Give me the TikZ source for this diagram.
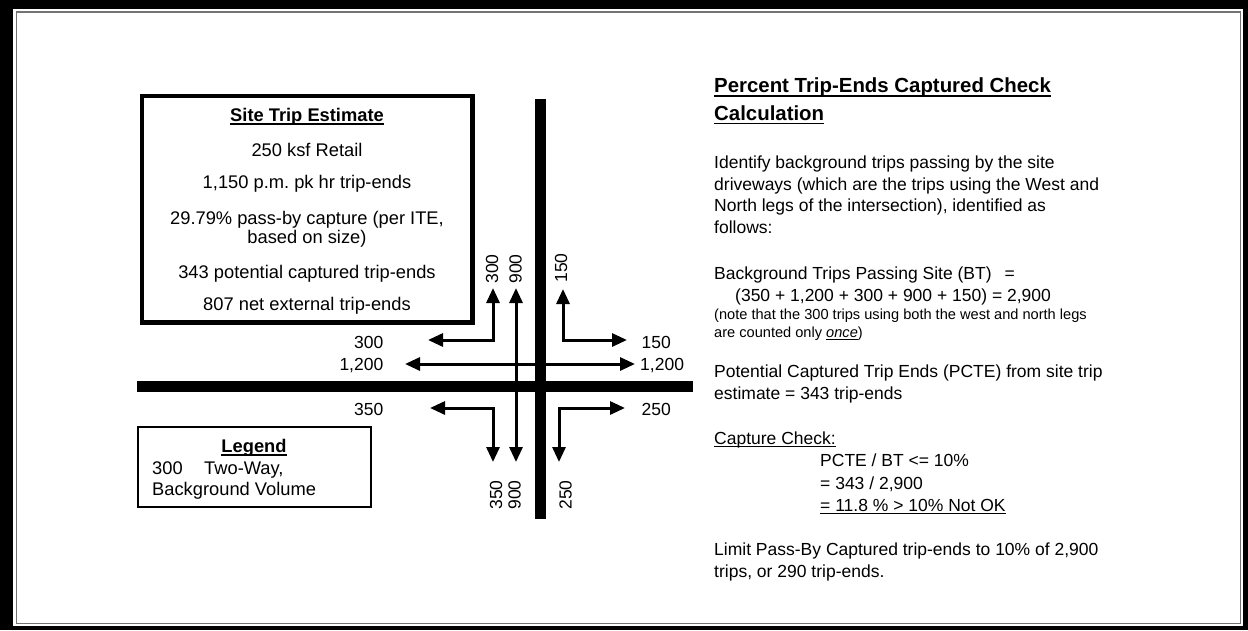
\documentclass[tikz,border=0pt]{standalone}
\usepackage{fontspec}
\setmainfont{Liberation Sans}
\usetikzlibrary{arrows.meta}
\frenchspacing
\newcommand\myul[1]{\setbox0=\hbox{#1}\rlap{\rule[-3pt]{\wd0}{1.3pt}}\box0}
\newcommand\myulb[1]{\setbox0=\hbox{#1}\rlap{\rule[-4.2pt]{\wd0}{1.6pt}}\box0}
\begin{document}
\begin{tikzpicture}[x=1pt,y=-1pt,
  txt/.style={inner sep=0pt, anchor=base west, font=\fontsize{17.5}{21}\selectfont},
  txtb/.style={inner sep=0pt, anchor=base west, font=\bfseries\fontsize{20.4}{24}\selectfont},
  txts/.style={inner sep=0pt, anchor=base west, font=\fontsize{14.6}{17}\selectfont},
  ltxt/.style={inner sep=0pt, anchor=base west, font=\fontsize{18.3}{22}\selectfont},
  ctr/.style={inner sep=0pt, anchor=base, font=\fontsize{18.3}{22}\selectfont},
  ctrb/.style={inner sep=0pt, anchor=base, font=\bfseries\fontsize{18.3}{22}\selectfont},
  lbl/.style={inner sep=0pt, font=\fontsize{17.5}{21}\selectfont},
  arr/.style={line width=3pt, {Triangle[length=15pt,width=13pt]}-{Triangle[length=15pt,width=13pt]}}]
\useasboundingbox (0,0) rectangle (1248,630);
% frame
\fill[black] (0,0) rectangle (1248,630);
\fill[white] (13,9) rectangle (1243,626);
\draw[black!55, line width=1.3pt] (16.5,12) rectangle (1240.5,623.5);
% site trip estimate box
\draw[line width=4.5pt] (142,96) rectangle (472.5,322.5);
\node[ctrb] (s0) at (307,121.5) {\myul{Site Trip Estimate}};
\node[ctr] (s1) at (307,156) {250 ksf Retail};
\node[ctr] (s2) at (307,188) {1,150 p.m. pk hr trip-ends};
\node[ctr] (s3) at (307,224.5) {29.79\% pass-by capture (per ITE,};
\node[ctr] (s4) at (307,243) {based on size)};
\node[ctr] (s5) at (307,278.5) {343 potential captured trip-ends};
\node[ctr] (s6) at (307,310) {807 net external trip-ends};
% roads
\fill[black] (535,99) rectangle (546,519);
\fill[black] (137,381) rectangle (693,392);
% movement arrows
\coordinate (nwL) at (428,340); \coordinate (nwU) at (493,288);
\draw[arr] (nwL) -| (nwU);
\coordinate (nU) at (516,288); \coordinate (nD) at (516,462);
\draw[arr] (nU) -- (nD);
\coordinate (neU) at (563,289); \coordinate (neR) at (627,340);
\draw[arr] (neU) |- (neR);
\coordinate (wL) at (405,364); \coordinate (eR) at (635,364);
\draw[arr] (wL) -- (eR);
\coordinate (swL) at (430,408); \coordinate (swD) at (493,462);
\draw[arr] (swL) -| (swD);
\coordinate (seR) at (625,408); \coordinate (seD) at (559,462);
\draw[arr] (seR) -| (seD);
% volume labels
\node[lbl, anchor=base east] (l300) at (383.5,348.3) {300};
\node[lbl, anchor=base east] (l1200w) at (383.5,370.7) {1,200};
\node[lbl, anchor=base east] (l350) at (383.5,415) {350};
\node[lbl, anchor=base west] (l150) at (641.5,348.3) {150};
\node[lbl, anchor=base west] (l1200e) at (640,370.7) {1,200};
\node[lbl, anchor=base west] (l250) at (641.5,415) {250};
\node[lbl, anchor=base, rotate=90] (v300) at (498,269) {300};
\node[lbl, anchor=base, rotate=90] (v900) at (521.5,269) {900};
\node[lbl, anchor=base, rotate=90] (v150) at (567,268) {150};
\node[lbl, anchor=base, rotate=90] (v350b) at (502,495) {350};
\node[lbl, anchor=base, rotate=90] (v900b) at (520.5,495) {900};
\node[lbl, anchor=base, rotate=90] (v250b) at (571.5,495) {250};
% legend
\draw[line width=1.8pt] (138,427) rectangle (371,507);
\node[ctrb] (lg0) at (254,452.7) {\myul{Legend}};
\node[ltxt] (lg1) at (152,474) {300\hspace{21.5pt}Two-Way,};
\node[ltxt] (lg2) at (152,495) {Background Volume};
% right column
\node[txtb] (t1) at (714,92.7) {\myulb{Percent Trip-Ends Captured Check}};
\node[txtb] (t2) at (714,120) {\myulb{Calculation}};
\node[txt] (p1) at (714,168.3) {Identify background trips passing by the site};
\node[txt] (p2) at (714,190) {driveways (which are the trips using the West and};
\node[txt] (p3) at (714,211.7) {North legs of the intersection), identified as};
\node[txt] (p4) at (714,233.4) {follows:};
\node[txt] (b1) at (714,279) {Background Trips Passing Site (BT)\hspace{13pt}=};
\node[txt] (b2) at (735,301) {(350 + 1,200 + 300 + 900 + 150) = 2,900};
\node[txts] (n1) at (714,319.3) {(note that the 300 trips using both the west and north legs};
\node[txts] (n2) at (714,337.3) {are counted only \myul{\itshape once})};
\node[txt] (c1) at (714,377.3) {Potential Captured Trip Ends (PCTE) from site trip};
\node[txt] (c2) at (714,399.3) {estimate = 343 trip-ends};
\node[txt] (k0) at (714,444) {\myul{Capture Check:}};
\node[txt] (k1) at (820,466.7) {PCTE / BT <= 10\%};
\node[txt] (k2) at (820,489) {= 343 / 2,900};
\node[txt] (k3) at (820,511) {\myul{= 11.8 \% > 10\% Not OK}};
\node[txt] (L1) at (714,555) {Limit Pass-By Captured trip-ends to 10\% of 2,900};
\node[txt] (L2) at (714,577.3) {trips, or 290 trip-ends.};
\end{tikzpicture}
\end{document}
